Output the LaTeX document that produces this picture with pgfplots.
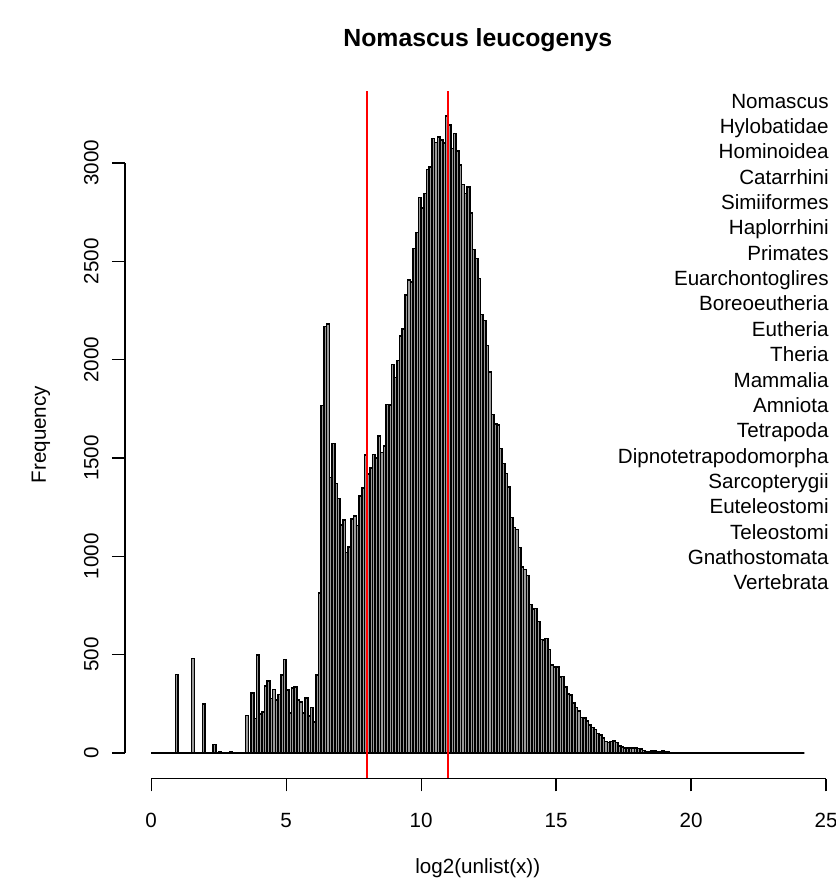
\documentclass[border=0pt]{standalone}
\usepackage{fontspec}
\setmainfont{Liberation Sans}
\usepackage{pgfplots}
\pgfplotsset{compat=1.18}
\usetikzlibrary{calc}
\definecolor{barfill}{HTML}{9A9A9A}
\newcommand{\rfont}{\fontsize{10.3}{12.68}\selectfont}
\begin{document}
\begin{tikzpicture}
\path[use as bounding box] (-62.5pt,-53.25pt) rectangle (355.5pt,389.25pt);
\begin{axis}[
  name=ax, at={(0,0)}, anchor=south west,
  scale only axis, width=352.8pt, height=343.9pt,
  xmin=-0.968, xmax=25.168, ymin=-129.52, ymax=3367.52,
  axis x line=bottom, axis y line=left,
  axis line style={draw=none},
  clip=false,
  xtick={0,5,...,25}, ytick={0,500,...,3000},
  tick align=outside, major tick length=6.5pt,
  tick style={black, line width=0.6pt},
  /pgf/number format/assume math mode=true,
  /pgf/number format/1000 sep={},
  scaled ticks=false,
  ticklabel style={font=\rfont, inner sep=0pt},
  xticklabel style={anchor=north, yshift=-10.5pt},
  yticklabel style={xshift=-6.5pt, rotate=90, anchor=south},
]
% histogram, bins of 0.1 (left edges)
\addplot[ybar interval, fill=barfill, draw=black, line width=0.8pt] coordinates {
(0.0,0)(0.1,0)(0.2,0)(0.3,0)(0.4,0)(0.5,0)(0.6,0)(0.7,0)(0.8,0)(0.9,400)
(1.0,0)(1.1,0)(1.2,0)(1.3,0)(1.4,0)(1.5,481)(1.6,0)(1.7,0)(1.8,0)(1.9,249)
(2.0,0)(2.1,0)(2.2,0)(2.3,44)(2.4,0)(2.5,7)(2.6,0)(2.7,0)(2.8,0)(2.9,5)
(3.0,0)(3.1,0)(3.2,0)(3.3,0)(3.4,0)(3.5,190)(3.6,0)(3.7,305)(3.8,175)(3.9,498)
(4.0,198)(4.1,210)(4.2,341)(4.3,366)(4.4,278)(4.5,324)(4.6,269)(4.7,298)(4.8,397)(4.9,476)
(5.0,320)(5.1,202)(5.2,332)(5.3,337)(5.4,269)(5.5,259)(5.6,202)(5.7,281)(5.8,188)(5.9,232)
(6.0,157)(6.1,398)(6.2,815)(6.3,1767)(6.4,2168)(6.5,2181)(6.6,1401)(6.7,1574)(6.8,1371)(6.9,1295)
(7.0,1159)(7.1,1185)(7.2,1020)(7.3,1049)(7.4,1189)(7.5,1205)(7.6,1156)(7.7,1308)(7.8,1349)(7.9,1515)
(8.0,1420)(8.1,1450)(8.2,1518)(8.3,1501)(8.4,1613)(8.5,1527)(8.6,1562)(8.7,1773)(8.8,1768)(8.9,1975)
(9.0,1910)(9.1,1996)(9.2,2120)(9.3,2155)(9.4,2328)(9.5,2405)(9.6,2396)(9.7,2566)(9.8,2647)(9.9,2825)
(10.0,2772)(10.1,2845)(10.2,2967)(10.3,2981)(10.4,3125)(10.5,3105)(10.6,3133)(10.7,3116)(10.8,3103)(10.9,3238)
(11.0,3193)(11.1,3074)(11.2,3150)(11.3,3062)(11.4,2989)(11.5,2891)(11.6,2845)(11.7,2879)(11.8,2747)(11.9,2561)
(12.0,2515)(12.1,2413)(12.2,2230)(12.3,2200)(12.4,2072)(12.5,1937)(12.6,1722)(12.7,1672)(12.8,1668)(12.9,1549)
(13.0,1473)(13.1,1422)(13.2,1354)(13.3,1198)(13.4,1147)(13.5,1137)(13.6,1044)(13.7,947)(13.8,934)(13.9,903)
(14.0,756)(14.1,731)(14.2,734)(14.3,668)(14.4,578)(14.5,574)(14.6,583)(14.7,527)(14.8,447)(14.9,438)
(15.0,438)(15.1,388)(15.2,390)(15.3,337)(15.4,300)(15.5,295)(15.6,253)(15.7,232)(15.8,215)(15.9,181)
(16.0,178)(16.1,164)(16.2,142)(16.3,129)(16.4,120)(16.5,100)(16.6,92)(16.7,75)(16.8,58)(16.9,53)
(17.0,58)(17.1,61)(17.2,53)(17.3,36)(17.4,32)(17.5,27)(17.6,27)(17.7,27)(17.8,27)(17.9,27)
(18.0,24)(18.1,20)(18.2,12)(18.3,7)(18.4,7)(18.5,10)(18.6,10)(18.7,7)(18.8,8)(18.9,10)
(19.0,4)(19.1,4)(19.2,3)(19.3,3)(19.4,3)(19.5,2)(19.6,2)(19.7,2)(19.8,2)(19.9,1)
(20.0,1)(20.1,1)(20.2,1)(20.3,0)(20.4,0)(20.5,0)(20.6,0)(20.7,0)(20.8,0)(20.9,0)
(21.0,0)(21.1,0)(21.2,0)(21.3,0)(21.4,0)(21.5,0)(21.6,0)(21.7,0)(21.8,0)(21.9,0)
(22.0,0)(22.1,0)(22.2,0)(22.3,0)(22.4,0)(22.5,0)(22.6,0)(22.7,0)(22.8,0)(22.9,0)
(23.0,0)(23.1,0)(23.2,0)(23.3,0)(23.4,0)(23.5,0)(23.6,0)(23.7,0)(23.8,0)(23.9,0)
(24.0,0)(24.1,0)(24.2,0)
};
% abline(v = c(8, 11))
\addplot[red, line width=0.8pt] coordinates {(8,-129.52) (8,3367.52)};
\addplot[red, line width=0.8pt] coordinates {(11,-129.52) (11,3367.52)};
% R style axis lines (only over tick range)
\draw[line width=0.6pt] (axis cs:0,-129.52) -- (axis cs:25,-129.52);
\draw[line width=0.6pt] (axis cs:-0.968,0) -- (axis cs:-0.968,3000);
\end{axis}
\node[font=\bfseries\fontsize{12.4}{14}\selectfont] at ($(ax.north)+(0,25.35pt)$) {Nomascus leucogenys};
\node[font=\rfont] at ($(ax.south)+(0,-45pt)$) {log2(unlist(x))};
\node[font=\rfont, rotate=90] at ($(ax.west)+(-42pt,0)$) {Frequency};
\foreach \t [count=\i from 0] in {Nomascus,Hylobatidae,Hominoidea,Catarrhini,Simiiformes,Haplorrhini,Primates,Euarchontoglires,Boreoeutheria,Eutheria,Theria,Mammalia,Amniota,Tetrapoda,Dipnotetrapodomorpha,Sarcopterygii,Euteleostomi,Teleostomi,Gnathostomata,Vertebrata}
  \node[font=\rfont, anchor=base east, inner sep=0pt] at ($(ax.north east)+(-0.8pt,{-8.7pt-\i*12.68pt})$) {\t};
\end{tikzpicture}
\end{document}
